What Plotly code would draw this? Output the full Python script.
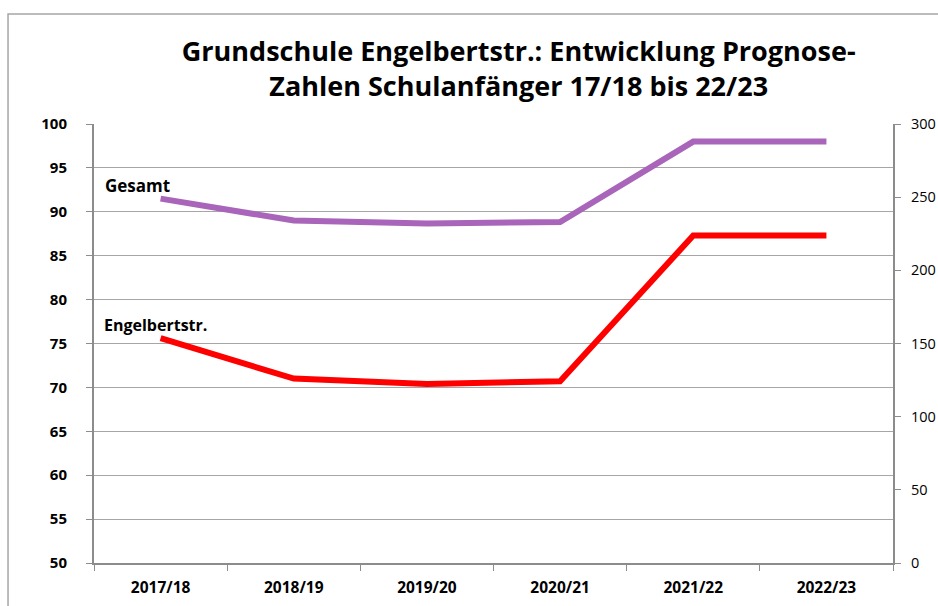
import plotly.graph_objects as go

categories = ["2017/18", "2018/19", "2019/20", "2020/21", "2021/22", "2022/23"]
engelbert = [75.6, 71.0, 70.4, 70.7, 87.3, 87.3]
gesamt = [249, 234, 232, 233, 288, 288]
left_ticks = list(range(50, 101, 5))
right_ticks = list(range(0, 301, 50))

FONT = "Open Sans, sans-serif"
AXIS = "#8c8c8c"

fig = go.Figure()
fig.add_trace(go.Scatter(x=categories, y=engelbert, mode="lines", name="Engelbertstr.",
                         line=dict(color="#FF0000", width=6), yaxis="y"))
fig.add_trace(go.Scatter(x=categories, y=gesamt, mode="lines", name="Gesamt",
                         line=dict(color="#A865B9", width=6), yaxis="y2"))

fig.update_layout(
    width=938, height=606,
    margin=dict(l=94, r=45, t=124, b=43, autoexpand=False),
    paper_bgcolor="white", plot_bgcolor="white",
    showlegend=False,
    font=dict(family=FONT, color="black"),
    title=dict(text="<b>Grundschule Engelbertstr.: Entwicklung Prognose-<br>Zahlen Schulanfänger 17/18 bis 22/23</b>",
               x=0.553, xanchor="center", y=0.899, yanchor="middle",
               font=dict(size=27, family=FONT)),
    xaxis=dict(type="category", range=[-0.5, 5.5], showgrid=False, automargin=False,
               showline=True, linecolor=AXIS, linewidth=2,
               ticks="outside", tickson="boundaries", ticklen=6, tickcolor=AXIS,
               ticklabelstandoff=9,
               tickfont=dict(size=15.5, family=FONT, weight="bold")),
    yaxis=dict(range=[50, 100], tickvals=left_ticks, showgrid=True, gridcolor="#a6a6a6", gridwidth=1,
               automargin=False,
               showline=True, linecolor=AXIS, linewidth=2, ticks="outside", ticklen=6, tickcolor=AXIS,
               ticklabelstandoff=16,
               tickfont=dict(size=15, family=FONT, weight="bold"), zeroline=False),
    yaxis2=dict(range=[0, 300], tickvals=right_ticks, overlaying="y", side="right", showgrid=False,
                automargin=False,
                showline=True, linecolor=AXIS, linewidth=2, ticks="outside", ticklen=6, tickcolor=AXIS,
                ticklabelstandoff=7,
                tickfont=dict(size=14.5, family=FONT), zeroline=False),
    annotations=[
        dict(text="<b>Gesamt</b>", xref="paper", yref="paper", x=0.011, y=0.861,
             xanchor="left", yanchor="middle", showarrow=False, font=dict(size=17, family=FONT)),
        dict(text="<b>Engelbertstr.</b>", xref="paper", yref="paper", x=0.010, y=0.542,
             xanchor="left", yanchor="middle", showarrow=False, font=dict(size=16, family=FONT)),
    ],
    shapes=[dict(type="rect", xref="paper", yref="paper", x0=-0.1076, y0=-0.12, x1=1.07, y1=1.2506,
                 line=dict(color="#a6a6a6", width=1.5), fillcolor="rgba(0,0,0,0)", layer="below")],
)

fig.write_html("out.html", config={"displayModeBar": False},
               post_script="document.body.style.margin='0px';")
